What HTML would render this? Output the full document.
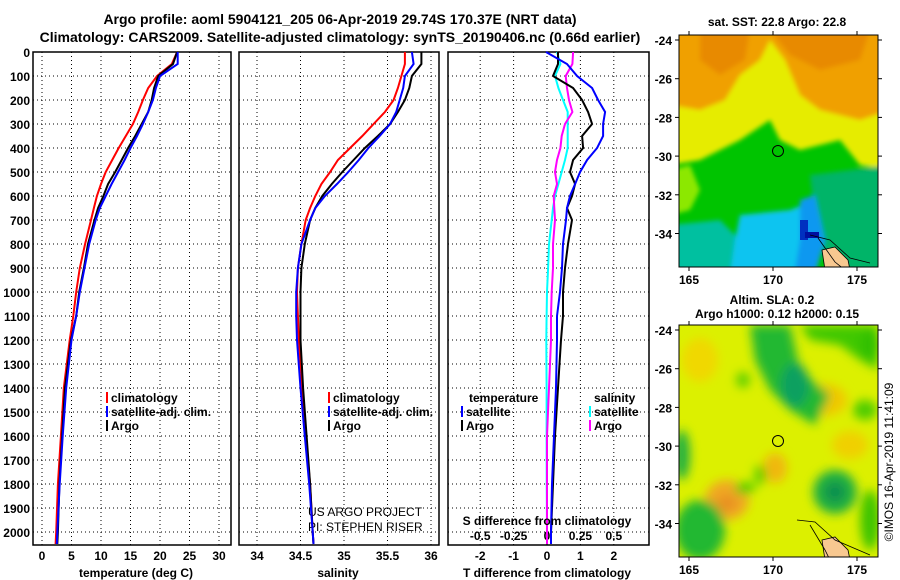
<!DOCTYPE html>
<html><head><meta charset="utf-8"><style>
body{margin:0;background:#fff}
svg{display:block;font-family:"Liberation Sans",sans-serif;font-weight:bold}
</style></head><body>
<svg id="c" width="900" height="580" viewBox="0 0 900 580">
<defs>
<filter id="bl" x="-10%" y="-10%" width="120%" height="120%"><feGaussianBlur stdDeviation="5"/></filter>
<filter id="bl2" x="-10%" y="-10%" width="120%" height="120%"><feGaussianBlur stdDeviation="2.5"/></filter>
<clipPath id="cm1"><rect x="679" y="35" width="199" height="232"/></clipPath>
<clipPath id="cm2"><rect x="679" y="325" width="199" height="232"/></clipPath>
</defs>
<text x="340" y="24" font-size="14" text-anchor="middle">Argo profile: aoml 5904121_205 06-Apr-2019 29.74S 170.37E (NRT data)</text>
<text x="340" y="42" font-size="14" text-anchor="middle">Climatology: CARS2009. Satellite-adjusted climatology: synTS_20190406.nc (0.66d earlier)</text>

<g clip-path="url(#cm1)">
<rect x="679" y="35" width="199" height="232" fill="#00c400"/>
<g filter="url(#bl2)">
<path d="M670,30 L890,30 L890,170 L860,165 L840,140 L800,150 L780,140 L770,120 L740,140 L720,150 L700,160 L670,165 Z" fill="#e6ec00"/>
<path d="M670,30 L890,30 L890,110 L860,120 L820,110 L800,95 L785,60 L770,40 L760,60 L740,75 L725,100 L700,110 L670,105 Z" fill="#f0a000"/>
<path d="M700,30 L750,30 L745,60 L720,75 L700,60 Z" fill="#e88a00"/>
<path d="M770,30 L870,30 L860,60 L820,70 L790,55 Z" fill="#e88a00"/>
<path d="M670,170 L690,165 L700,190 L690,210 L670,215 Z" fill="#8ce800"/>
<path d="M810,175 L890,165 L890,275 L830,275 L815,220 Z" fill="#00b468"/>
<path d="M670,225 L720,220 L750,250 L745,275 L670,275 Z" fill="#00c0a0"/>
<path d="M740,215 L790,210 L815,200 L820,245 L800,275 L730,275 L735,240 Z" fill="#10c4f0"/>
<path d="M800,200 L815,195 L825,240 L815,275 L795,270 L800,240 Z" fill="#1098f0"/>
</g>
<rect x="800" y="220" width="8" height="20" fill="#0030c0"/>
<rect x="805" y="232" width="14" height="6" fill="#0010a0"/>
<path d="M822,250 L835,247 L848,260 L850,270 L825,270 Z" fill="#f8c890" stroke="#000" stroke-width="0.8"/>
<path d="M810,235 L830,240 L850,258 L870,263 M818,238 L835,262 L845,270" fill="none" stroke="#000" stroke-width="0.8"/>
<circle cx="778" cy="151" r="5.5" fill="none" stroke="#000" stroke-width="1"/>
</g>
<rect x="679" y="35" width="199" height="232" fill="none" stroke="#000"/>
<text x="777" y="26" font-size="12" text-anchor="middle">sat. SST: 22.8 Argo: 22.8</text>

<g clip-path="url(#cm2)">
<rect x="679" y="325" width="199" height="232" fill="#dcf000"/>
<g filter="url(#bl)">
<ellipse cx="700" cy="360" rx="18" ry="22" fill="#f0d800"/>
<ellipse cx="825" cy="400" rx="22" ry="16" fill="#f0c800"/>
<ellipse cx="727" cy="500" rx="22" ry="20" fill="#f0a820"/>
<ellipse cx="727" cy="503" rx="10" ry="8" fill="#e89020"/>
<ellipse cx="775" cy="468" rx="12" ry="15" fill="#f0b810"/>
<ellipse cx="850" cy="445" rx="18" ry="14" fill="#f0d000"/>
<path d="M750,325 L790,325 L800,370 L830,395 L815,425 L790,410 L770,390 L755,360 Z" fill="#20b830"/>
<ellipse cx="795" cy="385" rx="14" ry="22" fill="#10a060"/>
<path d="M800,325 L878,325 L878,370 L860,360 L840,345 L810,340 Z" fill="#40c800"/>
<ellipse cx="835" cy="492" rx="22" ry="22" fill="#20b040"/>
<ellipse cx="835" cy="492" rx="10" ry="10" fill="#109050"/>
<ellipse cx="700" cy="530" rx="25" ry="30" fill="#20b830"/>
<ellipse cx="682" cy="455" rx="8" ry="25" fill="#20b040"/>
<ellipse cx="760" cy="475" rx="6" ry="10" fill="#60d000"/>
<ellipse cx="745" cy="488" rx="10" ry="6" fill="#50cc00"/>
<ellipse cx="865" cy="410" rx="12" ry="10" fill="#50cc00"/>
<ellipse cx="870" cy="520" rx="10" ry="30" fill="#40c400"/>
<ellipse cx="743" cy="380" rx="7" ry="8" fill="#60d000"/>
<ellipse cx="870" cy="345" rx="10" ry="15" fill="#30c000"/>
</g>
<path d="M822,540 L835,537 L848,550 L850,560 L825,560 Z" fill="#f8c890" stroke="#000" stroke-width="0.8"/>
<path d="M797,520 L815,522 L835,540 L870,555 M810,525 L825,550 L830,560" fill="none" stroke="#000" stroke-width="0.8"/>
<circle cx="778" cy="441" r="5.5" fill="none" stroke="#000" stroke-width="1"/>
</g>
<rect x="679" y="325" width="199" height="232" fill="none" stroke="#000"/>
<text x="772" y="304" font-size="12" text-anchor="middle">Altim. SLA: 0.2</text>
<text x="777" y="318" font-size="12" text-anchor="middle">Argo h1000: 0.12 h2000: 0.15</text>
<text transform="translate(893,462) rotate(-90)" font-size="12" font-weight="normal" text-anchor="middle">©IMOS 16-Apr-2019 11:41:09</text>
<text x="308" y="516" font-size="12" font-weight="normal">US ARGO PROJECT</text>
<text x="308" y="531" font-size="12" font-weight="normal">PI: STEPHEN RISER</text>
<g id="plots"></g>
</svg>
<script>
const depths = [0,50,100,150,200,250,300,350,400,450,500,550,600,650,700,800,900,1000,1100,1200,1400,1600,1800,2000,2050];
const tempArgo = [22.9,22.2,19.7,19.0,18.6,18.0,16.9,15.8,14.6,13.5,12.4,11.2,10.4,9.5,8.9,7.8,7.1,6.3,5.8,4.9,3.9,3.4,2.95,2.7,2.6];
const tempClim = [22.9,22.0,19.5,18.0,17.1,16.3,15.4,14.2,13.0,11.9,10.8,10.0,9.3,8.8,8.3,7.3,6.4,5.8,5.3,4.7,3.7,3.2,2.7,2.4,2.3];
const tempSat  = [23.0,23.0,20.0,19.3,18.8,18.0,17.1,16.1,15.0,14.0,12.9,11.8,10.8,9.8,9.1,8.0,7.2,6.4,5.8,5.0,4.1,3.5,3.0,2.6,2.5];
const salArgo = [35.89,35.89,35.78,35.75,35.70,35.62,35.53,35.39,35.24,35.11,34.98,34.86,34.75,34.67,34.61,34.55,34.51,34.50,34.50,34.50,34.53,34.57,34.61,34.64,34.65];
const salClim = [35.70,35.70,35.66,35.62,35.57,35.47,35.34,35.21,35.07,34.93,34.84,34.74,34.67,34.61,34.56,34.51,34.47,34.46,34.47,34.48,34.52,34.56,34.61,34.64,34.65];
const salSat  = [35.78,35.80,35.70,35.68,35.64,35.60,35.53,35.41,35.28,35.17,35.05,34.92,34.78,34.67,34.61,34.51,34.47,34.45,34.45,34.46,34.50,34.55,34.60,34.64,34.65];
const dTArgo = [0.33,0.33,0.18,0.78,1.05,1.23,1.35,1.05,1.08,0.78,0.69,0.84,0.75,0.6,0.75,0.63,0.54,0.48,0.48,0.42,0.33,0.24,0.18,0.12,0.12];
const dTSat  = [-0.03,0.6,0.9,1.35,1.53,1.74,1.68,1.68,1.5,1.2,0.99,0.84,0.69,0.6,0.57,0.48,0.45,0.39,0.3,0.3,0.27,0.21,0.15,0.12,0.12];
const dSArgo = [0.195,0.19,0.14,0.15,0.165,0.19,0.135,0.11,0.1,0.075,0.06,0.075,0.05,0.055,0.06,0.045,0.045,0.035,0.03,0.03,0.015,0.0,0.0,0.0,0.0];
const dSSat  = [0.075,0.1,0.06,0.085,0.12,0.155,0.155,0.155,0.155,0.135,0.11,0.085,0.06,0.045,0.035,0.015,0.008,0.0,-0.003,-0.005,-0.003,-0.003,-0.002,0,0];
const depthTicks = [0,100,200,300,400,500,600,700,800,900,1000,1100,1200,1300,1400,1500,1600,1700,1800,1900,2000];
const tempTicks = [0,5,10,15,20,25,30];
const salTicks = [34,34.5,35,35.5,36];
const dTTicks = [-2,-1,0,1,2];
const dSTicks = [-0.5,-0.25,0,0.25,0.5];
const dSTickLabels = ["-0.5","-0.25","0","0.25","0.5"];
const mapLonTicks = [165,170,175];
const mapLatTicks = [-24,-26,-28,-30,-32,-34];

const NS='http://www.w3.org/2000/svg';
const root=document.getElementById('plots');
function mk(tag,attrs,parent){const e=document.createElementNS(NS,tag);for(const k in attrs)e.setAttribute(k,attrs[k]);(parent||root).appendChild(e);return e;}
const yD = d => 52 + d*0.24;
const xT = t => 42 + t*5.9;
const xS = s => 257 + (s-34)*87;
const xDT = t => 547 + t*33.4;
const xDS = s => 547 + s*133.6;
const yTop=52,yBot=545;
const panels=[[33,231],[239,439],[448,649]];
panels.forEach(p=>{
  depthTicks.forEach(d=>{const l=mk('line',{x1:p[0],x2:p[1],y1:yD(d),y2:yD(d),stroke:'#000','stroke-dasharray':'1,3','stroke-width':1});
  
  });
});
function vgrid(ticks,fx,lbls,ly){ticks.forEach((t,i)=>{const l=mk('line',{x1:fx(t),x2:fx(t),y1:yTop,y2:yBot,stroke:'#000','stroke-dasharray':'1,3'});


const tx=mk('text',{x:fx(t),y:ly,'font-size':12,'text-anchor':'middle'});tx.textContent=lbls?lbls[i]:String(t);

});}
vgrid(tempTicks,xT,null,560);
vgrid(salTicks,xS,null,560);
vgrid(dTTicks,xDT,null,560);
dSTicks.forEach((t,i)=>{const tx=mk('text',{x:xDS(t),y:540,'font-size':12,'text-anchor':'middle'});tx.textContent=dSTickLabels[i];

});
depthTicks.forEach(d=>{const tx=mk('text',{x:30,y:yD(d)+5,'font-size':12,'text-anchor':'end'});tx.textContent=d;

});
panels.forEach(p=>{const r=mk('rect',{x:p[0],y:yTop,width:p[1]-p[0],height:yBot-yTop,fill:'none',stroke:'#000','stroke-width':1.5});

});
function series(vals,fx,color,name){let d='';vals.forEach((v,i)=>{d+=(i?'L':'M')+fx(v).toFixed(1)+','+yD(depths[i]).toFixed(1);});
const p=mk('path',{d:d,fill:'none',stroke:color,'stroke-width':2});

}
series(tempClim,xT,'#f00','temp-climatology-line');
series(tempArgo,xT,'#000','temp-argo-line');
series(tempSat,xT,'#00f','temp-satellite-line');
series(salClim,xS,'#f00','sal-climatology-line');
series(salArgo,xS,'#000','sal-argo-line');
series(salSat,xS,'#00f','sal-satellite-line');
series(dSSat,xDS,'#0ff','s-diff-satellite-line');
series(dSArgo,xDS,'#f0f','s-diff-argo-line');
series(dTArgo,xDT,'#000','t-diff-argo-line');
series(dTSat,xDT,'#00f','t-diff-satellite-line');
function lab(x,y,t,name,anchor){const e=mk('text',{x:x,y:y,'font-size':12,'text-anchor':anchor||'start'});e.textContent=t;

return e;}
lab(136,577,'temperature (deg C)','x-axis-title-temperature','middle');
lab(338,577,'salinity','x-axis-title-salinity','middle');
lab(547,577,'T difference from climatology','x-axis-title-t-diff','middle');
lab(547,525,'S difference from climatology','s-diff-axis-title','middle');
function leg(x,y,color,t,name){const m=mk('rect',{x:x,y:y-10,width:2,height:11,fill:color});


lab(x+5,y,t,name,'start');}
leg(106,402,'#f00','climatology','legend-temp-climatology');
leg(106,416,'#00f','satellite-adj. clim.','legend-temp-satellite');
leg(106,430,'#000','Argo','legend-temp-argo');
leg(328,402,'#f00','climatology','legend-sal-climatology');
leg(328,416,'#00f','satellite-adj. clim.','legend-sal-satellite');
leg(328,430,'#000','Argo','legend-sal-argo');
lab(469,402,'temperature','legend-temperature-heading');
leg(461,416,'#00f','satellite','legend-t-satellite');
leg(461,430,'#000','Argo','legend-t-argo');
lab(594,402,'salinity','legend-salinity-heading');
leg(589,416,'#0ff','satellite','legend-s-satellite');
leg(589,430,'#f0f','Argo','legend-s-argo');
[[35,267,40],[325,557,330]].forEach(m=>{
  mapLonTicks.forEach(lon=>{const x=689+(lon-165)*16.8;
    mk('line',{x1:x,x2:x,y1:m[0],y2:m[0]-4,stroke:'#000'});
    mk('line',{x1:x,x2:x,y1:m[1],y2:m[1]+4,stroke:'#000'});
    lab(x,m[1]+17,String(lon),'map-lon-tick-label','middle');});
  mapLatTicks.forEach(lat=>{const y=m[2]+(-24-lat)*19.35;
    mk('line',{x1:679,x2:675,y1:y,y2:y,stroke:'#000'});
    mk('line',{x1:878,x2:882,y1:y,y2:y,stroke:'#000'});
    lab(672,y+5,String(lat),'map-lat-tick-label','end');});
});
</script>
</body></html>
